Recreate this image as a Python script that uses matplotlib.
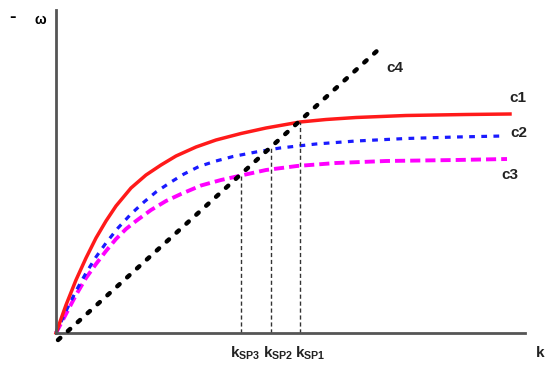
import matplotlib
matplotlib.use('Agg')
import matplotlib.pyplot as plt

plt.rcParams['font.family'] = ['Liberation Sans', 'DejaVu Sans']

# curves (k, omega)
c1_x = [0, 10, 20, 30, 40, 50, 60, 75, 90, 105, 120, 140, 160, 185, 210, 244, 270, 300, 350, 410, 454]
c1_y = [0, 28, 53, 75, 95, 112, 127, 145, 158, 168, 177, 186, 193, 199.5, 205, 211, 213.5, 215.5, 217.5, 218.5, 219]

c2_x = [0, 10, 20, 30, 40, 50, 62, 75, 88, 100, 115, 128, 143, 160, 177, 200, 224, 260, 300, 350, 400, 447]
c2_y = [0, 22, 42, 60, 76, 90, 105, 119, 131, 141, 151, 159, 166.5, 172, 176.5, 181, 185, 189, 192, 194.5, 196, 197]

c3_x = [0, 10, 20, 30, 40, 50, 60, 70, 80, 95, 110, 125, 145, 165, 185, 210, 241, 280, 330, 400, 451]
c3_y = [0, 19, 38, 55, 69, 82, 94, 104, 112, 123, 132, 139, 147.5, 153, 157.5, 163, 167, 170, 172, 173, 174]

c4_x = [2, 322]
c4_y = [-7, 283]

# operating points k_SP3, k_SP2, k_SP1
ksp_x = [185, 215, 244]
ksp_y = [157, 185, 211]
ksp_lab = [r'k$_\mathregular{SP3}$', r'k$_\mathregular{SP2}$', r'k$_\mathregular{SP1}$']

fig = plt.figure(figsize=(5.45, 3.67), dpi=100)
ax = fig.add_axes([56/545, 34/367, 469/545, 323/367])
ax.set_xlim(0, 469)
ax.set_ylim(0, 323)

ax.plot(c4_x, c4_y, color='black', lw=3.2, dashes=(0.7, 2.3),
        dash_capstyle='round', clip_on=False, zorder=3)
ax.plot(c3_x, c3_y, color='#ff00ff', lw=2.8, dashes=(2.6, 1.3), clip_on=False)
ax.plot(c2_x, c2_y, color='#1a1aff', lw=2.3, dashes=(1.8, 2.0), clip_on=False)
ax.plot(c1_x, c1_y, color='#ff1a1a', lw=2.5, clip_on=False)

for x, y in zip(ksp_x, ksp_y):
    ax.plot([x, x], [0, y], color='#333333', lw=1.0, ls=(0, (3, 2)))

txt = dict(fontsize=11, color='#222222', fontweight='bold', va='center')
ax.text(330, 265, 'c4', ha='left', **txt)
ax.text(462, 235, 'c1', ha='center', **txt)
ax.text(463, 200, 'c2', ha='center', **txt)
ax.text(454, 158, 'c3', ha='center', **txt)

for x, lab, dx in zip(ksp_x, ksp_lab, [4, 7, 10]):
    ax.text(x + dx, -20, lab, ha='center', **txt)
ax.text(484, -20, 'k', ha='center', **txt)

fig.text(12/545, 1 - 18/367, '-', fontsize=14, fontweight='bold', ha='center', va='center')
fig.text(40/545, 1 - 20/367, 'ω', fontsize=10, fontweight='bold', ha='center', va='center')

for s in ['top', 'right']:
    ax.spines[s].set_visible(False)
for s in ['left', 'bottom']:
    ax.spines[s].set_color('#555555')
    ax.spines[s].set_linewidth(2)
ax.set_xticks([])
ax.set_yticks([])

fig.savefig('out.png', dpi=100)
